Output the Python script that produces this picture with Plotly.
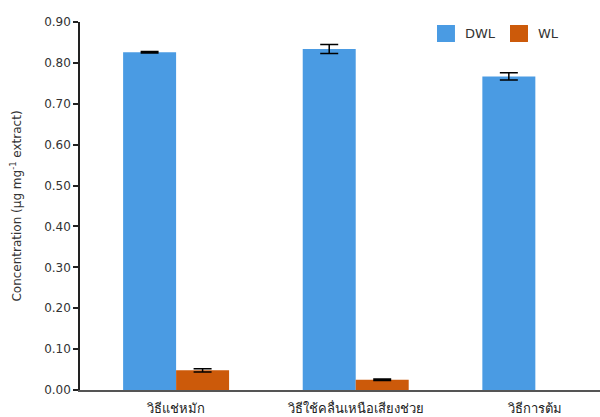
import plotly.graph_objects as go

methods = ["วิธีแช่หมัก", "วิธีใช้คลื่นเหนือเสียงช่วย", "วิธีการต้ม"]
dwl_values = [0.826, 0.834, 0.767]
dwl_errors = [0.002, 0.011, 0.009]
wl_values = [0.048, 0.025, None]
wl_errors = [0.004, 0.002, None]
y_ticks = [0.0, 0.1, 0.2, 0.3, 0.4, 0.5, 0.6, 0.7, 0.8, 0.9]
series_names = ["DWL", "WL"]
series_colors = ["#4a9be3", "#cc5a0a"]

font_family = "DejaVu Sans, Verdana, sans-serif"

fig = go.Figure()
for name, vals, errs, color in zip(series_names, [dwl_values, wl_values],
                                   [dwl_errors, wl_errors], series_colors):
    fig.add_trace(go.Bar(
        name=name, x=methods, y=vals, showlegend=False,
        marker=dict(color=color, line=dict(width=0)),
        error_y=dict(type="data", array=errs, color="black", thickness=1.5, width=9),
    ))

# Legend drawn as larger colour swatches with labels at the top right
legend_x = [0.6865, 0.8269]
for name, color, x0 in zip(series_names, series_colors, legend_x):
    fig.add_shape(type="rect", xref="paper", yref="paper",
                  x0=x0, x1=x0 + 0.0346, y0=0.9457, y1=0.9918,
                  fillcolor=color, line=dict(width=0))
    fig.add_annotation(text=name, xref="paper", yref="paper",
                       x=x0 + 0.0346 + 0.0145, y=0.9688, xanchor="left", yanchor="middle",
                       showarrow=False, font=dict(size=13, color="#333333"))

fig.update_layout(
    width=600, height=417,
    margin=dict(l=80, r=0, t=22, b=27),
    plot_bgcolor="white", paper_bgcolor="white",
    barmode="group", bargap=0.41, bargroupgap=0,
    font=dict(family=font_family, size=12, color="#333333"),
    showlegend=False,
)
fig.update_xaxes(
    range=[-0.535, 2.36], showline=True, linecolor="#555555", linewidth=1.5,
    ticks="", showgrid=False, tickfont=dict(size=13, color="#222222"),
    ticklabelstandoff=6,
)
fig.update_yaxes(
    range=[0, 0.9], tickvals=y_ticks, tickformat=".2f",
    showline=True, linecolor="#222222", linewidth=1.5,
    ticks="outside", ticklen=5, tickcolor="#222222", tickwidth=1.5,
    showgrid=False, zeroline=False,
    tickfont=dict(size=12, color="#333333"),
    title=dict(text="Concentration (µg mg<sup>-1</sup> extract)",
               font=dict(size=12, color="#333333"), standoff=20),
)

fig.write_html("out.html")
